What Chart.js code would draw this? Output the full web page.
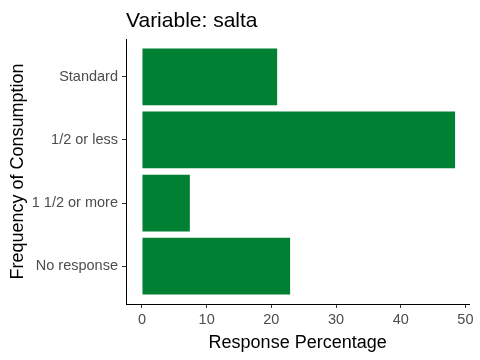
<!DOCTYPE html>
<html>
<head>
<meta charset="utf-8">
<script src="https://cdn.jsdelivr.net/npm/chart.js@4/dist/chart.umd.min.js"></script>
<style>
html,body{margin:0;padding:0;background:#fff;}
#wrap{width:480px;height:360px;}
</style>
</head>
<body>
<div id="wrap"><canvas id="c" width="480" height="360"></canvas></div>
<script>
const categories = ['Standard', '1/2 or less', '1 1/2 or more', 'No response'];
const values = [20.9, 48.4, 7.4, 22.9];
const xTicks = [0, 10, 20, 30, 40, 50];
const titleText = 'Variable: salta';
const xTitle = 'Response Percentage';
const yTitle = 'Frequency of Consumption';

const FONT = "'Liberation Sans', Arial, sans-serif";

const titlePlugin = {
  id: 'leftTitle',
  afterDraw(chart) {
    const ctx = chart.ctx;
    ctx.save();
    ctx.font = '21px ' + FONT;
    ctx.fillStyle = '#000';
    ctx.textBaseline = 'alphabetic';
    ctx.textAlign = 'left';
    ctx.fillText(titleText, chart.chartArea.left, 27);
    ctx.restore();
  }
};

new Chart(document.getElementById('c'), {
  type: 'bar',
  data: {
    datasets: [{
      data: categories.map((c, i) => ({ x: values[i], y: i + 1 })),
      backgroundColor: '#008033',
      borderWidth: 0,
      categoryPercentage: 1,
      barPercentage: 0.9
    }]
  },
  options: {
    indexAxis: 'y',
    responsive: false,
    animation: false,
    devicePixelRatio: 1,
    layout: { padding: { top: 39, right: 10.7, left: 0, bottom: 0 } },
    plugins: { legend: { display: false }, tooltip: { enabled: false }, title: { display: false } },
    scales: {
      x: {
        type: 'linear',
        min: -2.47,
        max: 50.6,
        offset: false,
        afterBuildTicks: s => { s.ticks = xTicks.map(v => ({ value: v })); },
        afterFit: s => { s.height = 56; },
        grid: { offset: false, drawOnChartArea: false, drawTicks: true, tickLength: 4, color: '#333333' },
        border: { display: true, color: '#000', width: 1 },
        ticks: { color: '#4D4D4D', font: { family: FONT, size: 14.5 }, padding: 3, maxRotation: 0 },
        title: { display: true, text: xTitle, color: '#000', font: { family: FONT, size: 18 }, padding: { top: 0, bottom: 6 } }
      },
      y: {
        type: 'linear',
        min: 0.4,
        max: 4.6,
        reverse: true,
        offset: false,
        afterBuildTicks: s => { s.ticks = categories.map((c, i) => ({ value: i + 1 })); },
        afterFit: s => { s.width = 126; },
        grid: { offset: false, drawOnChartArea: false, drawTicks: true, tickLength: 4, color: '#333333' },
        border: { display: true, color: '#000', width: 1 },
        ticks: { color: '#4D4D4D', font: { family: FONT, size: 14.5 }, padding: 4, callback: v => categories[v - 1] },
        title: { display: true, text: yTitle, color: '#000', font: { family: FONT, size: 18 }, padding: { top: 7, bottom: 0 } }
      }
    }
  },
  plugins: [titlePlugin]
});
</script>
</body>
</html>
